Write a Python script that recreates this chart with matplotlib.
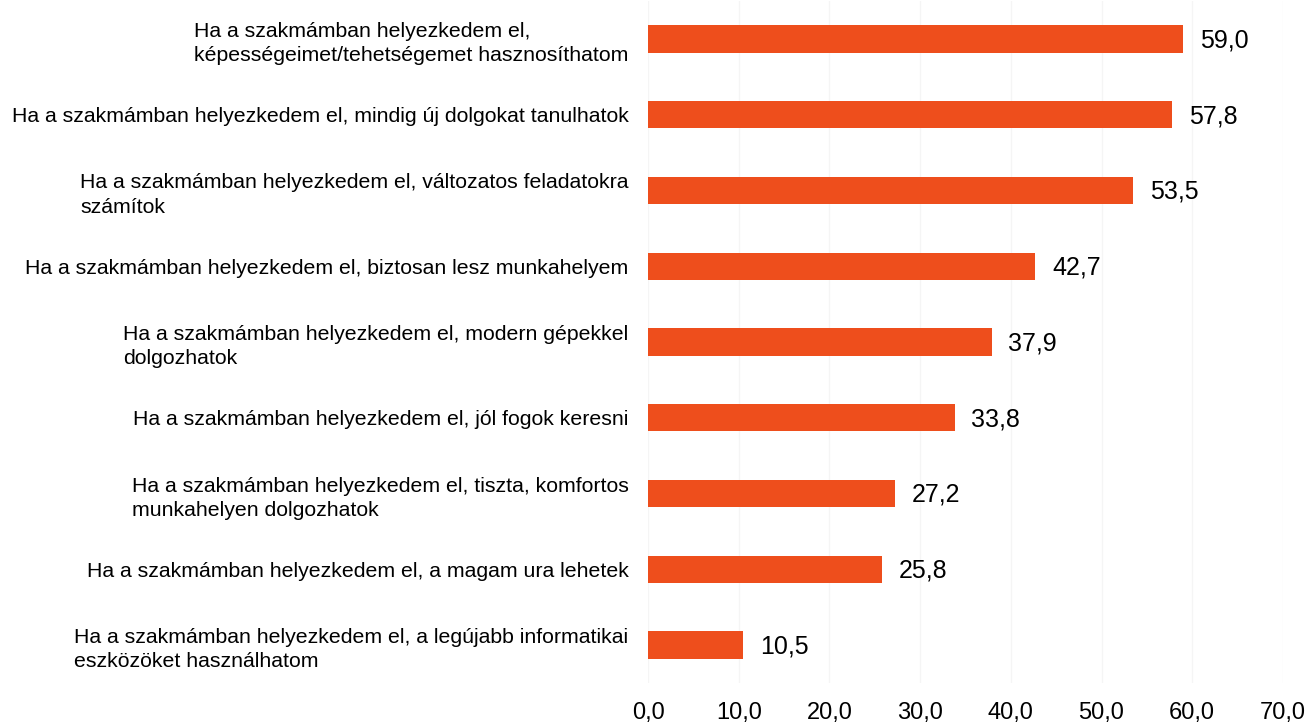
import matplotlib.pyplot as plt
from matplotlib.ticker import FuncFormatter

plt.rcParams['font.family'] = ['Liberation Sans', 'DejaVu Sans']

# Data (top to bottom)
labels = [
    "Ha a szakmámban helyezkedem el,\nképességeimet/tehetségemet hasznosíthatom",
    "Ha a szakmámban helyezkedem el, mindig új dolgokat tanulhatok",
    "Ha a szakmámban helyezkedem el, változatos feladatokra\nszámítok",
    "Ha a szakmámban helyezkedem el, biztosan lesz munkahelyem",
    "Ha a szakmámban helyezkedem el, modern gépekkel\ndolgozhatok",
    "Ha a szakmámban helyezkedem el, jól fogok keresni",
    "Ha a szakmámban helyezkedem el, tiszta, komfortos\nmunkahelyen dolgozhatok",
    "Ha a szakmámban helyezkedem el, a magam ura lehetek",
    "Ha a szakmámban helyezkedem el, a legújabb informatikai\neszközöket használhatom",
]
values = [59.0, 57.8, 53.5, 42.7, 37.9, 33.8, 27.2, 25.8, 10.5]
xticks = [0, 10, 20, 30, 40, 50, 60, 70]

BAR_COLOR = '#EE4E1C'

fig = plt.figure(figsize=(13.07, 7.22), dpi=100)
ax = fig.add_axes([0.4958, 0.054, 0.4858, 0.9446])

y = list(range(len(labels)))
ax.barh(y, values, height=0.36, color=BAR_COLOR, zorder=2)

for yi, v in zip(y, values):
    ax.annotate(f"{v:.1f}".replace('.', ','), (v, yi), xytext=(12, -1),
                textcoords='offset points', va='center', ha='left', fontsize=18)

ax.set_ylim(len(labels) - 0.5, -0.5)
ax.set_xlim(0, 70)
ax.set_xticks(xticks)
ax.xaxis.set_major_formatter(FuncFormatter(lambda x, p: f"{x:.1f}".replace('.', ',')))
ax.set_yticks(y)
ax.set_yticklabels(labels, ha='right', multialignment='left', linespacing=1.35)

ax.tick_params(axis='y', length=0, pad=14, labelsize=15.3)
ax.tick_params(axis='x', length=0, pad=14, labelsize=17)

ax.grid(axis='x', color='#f5f5f5', linewidth=1, zorder=0)
for s in ax.spines.values():
    s.set_visible(False)

fig.savefig('out.png', dpi=100)
